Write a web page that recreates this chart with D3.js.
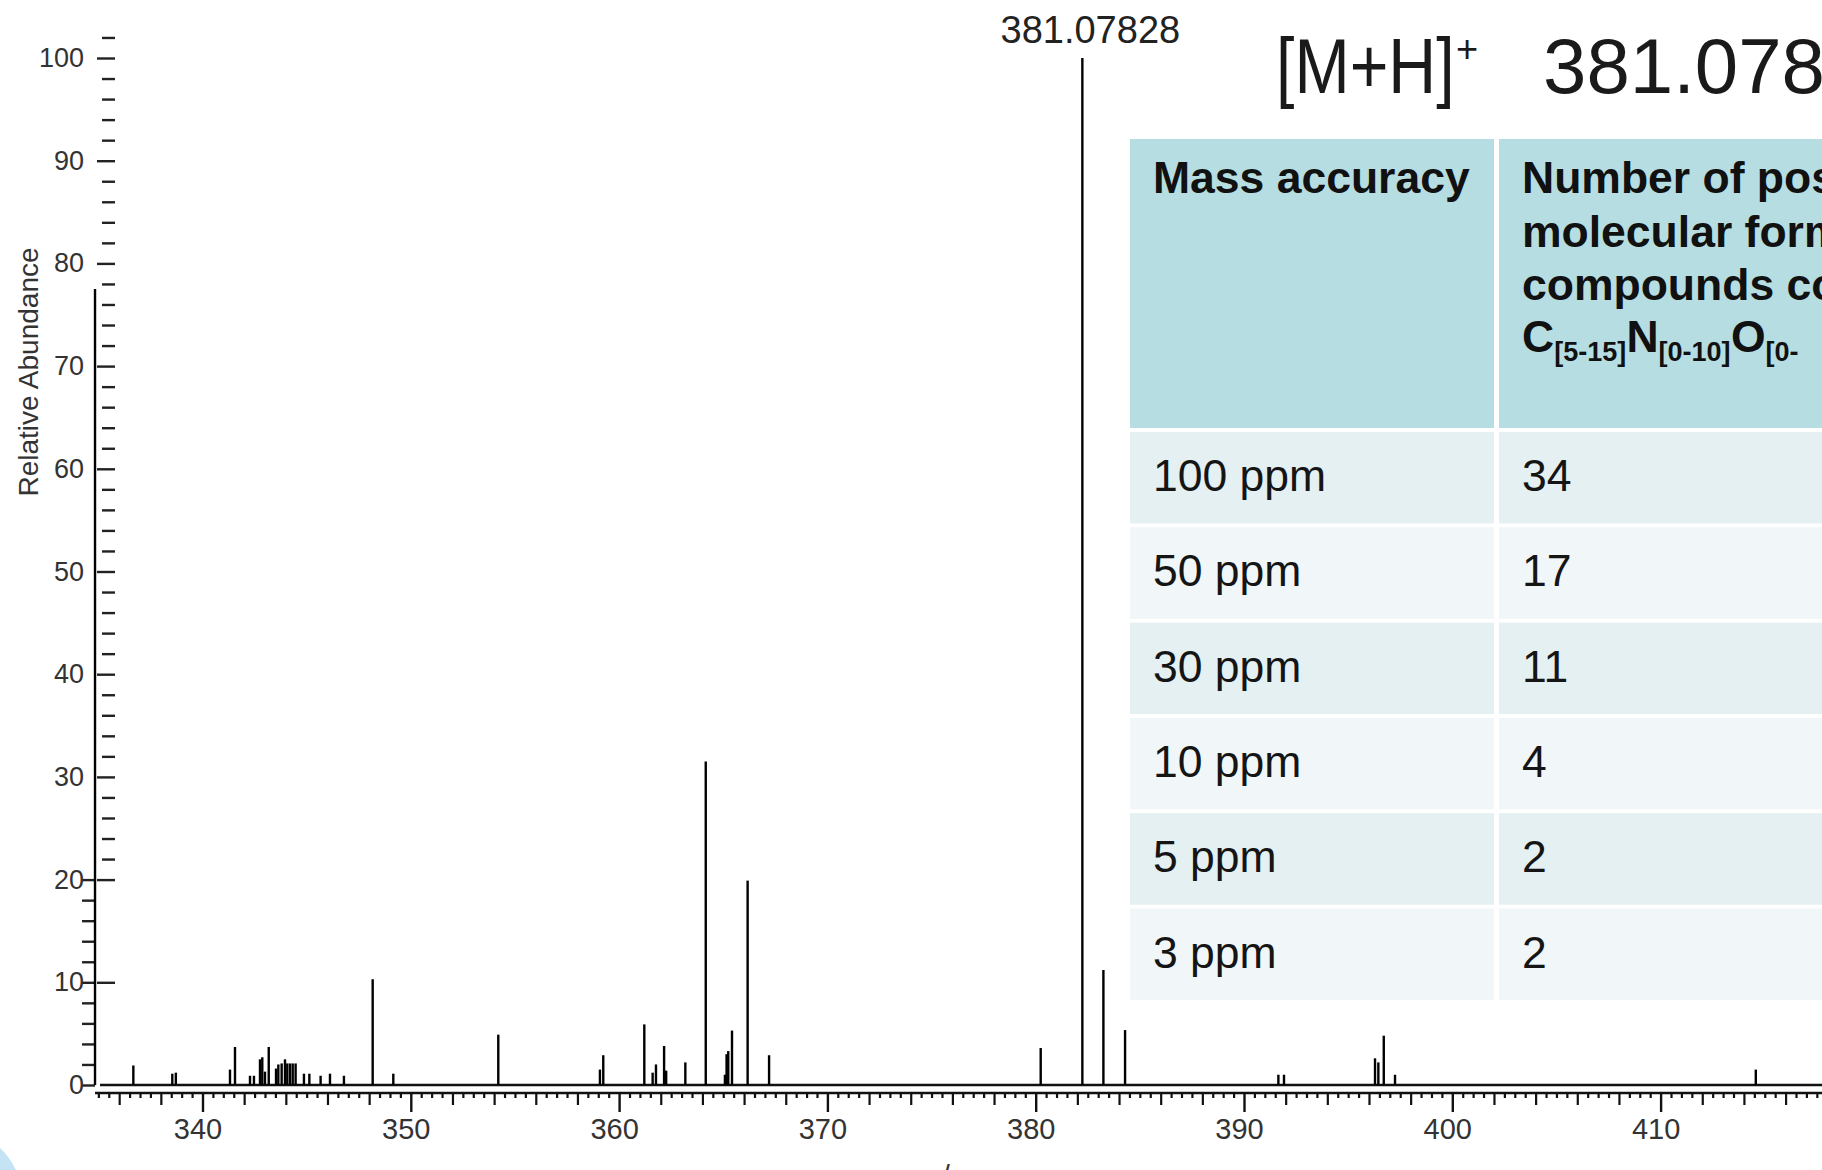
<!DOCTYPE html>
<html>
<head>
<meta charset="utf-8">
<script src="https://cdn.jsdelivr.net/npm/d3@7"></script>
<style>
  body { margin: 0; background: #fff; overflow: hidden; }
  svg { display: block; font-family: "Liberation Sans", Arial, sans-serif; }
</style>
</head>
<body>
<div class="vis-spectrum"></div>
<script>
// peaks (m/z on the drawn axis, relative abundance %)
const peakMz = [
  334.84, 336.68, 338.55, 338.72, 341.32, 341.56, 342.28, 342.47, 342.76, 342.87,
  343.0, 343.18, 343.53, 343.64, 343.8, 343.96, 344.07, 344.2, 344.33, 344.47,
  344.87, 345.13, 345.67, 346.12, 346.79, 348.17, 349.16, 354.2, 359.08, 359.24,
  361.21, 361.61, 361.77, 362.16, 362.26, 363.18, 364.16, 365.08, 365.16, 365.24,
  365.42, 366.17, 367.2, 380.24, 382.24, 383.25, 384.29, 391.65, 391.92, 396.29,
  396.45, 396.71, 397.25, 414.57
];
const peakAbund = [
  77.5, 1.9, 1.1, 1.2, 1.5, 3.7, 0.9, 0.9, 2.5, 2.7,
  1.3, 3.7, 1.6, 2.0, 2.1, 2.5, 2.1, 2.1, 2.1, 2.1,
  1.1, 1.1, 0.9, 1.1, 0.9, 10.3, 1.1, 4.9, 1.5, 2.9,
  5.9, 1.2, 2.0, 3.8, 1.4, 2.2, 31.5, 1.0, 3.0, 3.3,
  5.3, 19.9, 2.9, 3.6, 100, 11.2, 5.35, 1.0, 1.0, 2.6,
  2.2, 4.8, 1.0, 1.5
];
const baseLabel = "381.07828";
const xTickValues = [340, 350, 360, 370, 380, 390, 400, 410];
const yTickValues = [0, 10, 20, 30, 40, 50, 60, 70, 80, 90, 100];

// table beside the spectrum
const titleIon = "[M+H]";
const titleMass = "381.07828";
const headerCol1 = "Mass accuracy";
const headerCol2 = ["Number of possible", "molecular formulas for", "compounds containing"];
const formulaParts = [["C", "[5-15]"], ["N", "[0-10]"], ["O", "[0-"]];
const accuracyLabels = ["100 ppm", "50 ppm", "30 ppm", "10 ppm", "5 ppm", "3 ppm"];
const formulaCounts = [34, 17, 11, 4, 2, 2];

const width = 1822, height = 1170;
const svg = d3.select(".vis-spectrum").append("svg")
  .attr("width", width).attr("height", height);

const x = d3.scaleLinear().domain([340, 410]).range([202.5, 1660.6]);
const y = d3.scaleLinear().domain([0, 100]).range([1085, 58]);
const xLeft = x(334.84);

// x axis: double line + three tick tiers
svg.append("line").attr("x1", xLeft + 5).attr("x2", width)
  .attr("y1", y(0)).attr("y2", y(0)).attr("stroke", "#111").attr("stroke-width", 2.6);
svg.append("line").attr("x1", xLeft).attr("x2", width)
  .attr("y1", 1093).attr("y2", 1093).attr("stroke", "#111").attr("stroke-width", 2.6);

let minorX = [], mediumX = [];
for (let i = 670; i <= 836; i++) {
  const v = i / 2;
  if (v % 10 === 0) continue;
  if (v % 2 === 0) mediumX.push(v); else minorX.push(v);
}
function tickTier(vals, size) {
  const g = svg.append("g").attr("transform", "translate(0,1093)")
    .call(d3.axisBottom(x).tickValues(vals).tickSize(size).tickFormat(""));
  g.select(".domain").remove();
  g.selectAll("line").attr("stroke", "#111").attr("stroke-width", 2.2);
  return g;
}
tickTier(minorX, 5);
tickTier(mediumX, 12);
const xMajor = svg.append("g").attr("transform", "translate(0,1093)")
  .call(d3.axisBottom(x).tickValues(xTickValues).tickSize(19).tickPadding(6).tickFormat(d3.format("d")));
xMajor.select(".domain").remove();
xMajor.selectAll("line").attr("stroke", "#111").attr("stroke-width", 2.4);
xMajor.selectAll("text").attr("font-size", 29).attr("fill", "#333")
  .attr("dx", -5).attr("font-family", "Liberation Sans, Arial, sans-serif");

// y axis: dash ticks on the right of the line, small ticks on the left near the bottom
let dashY = [];
for (let v = 22; v <= 102; v += 2) if (v % 10 !== 0) dashY.push(v);
const yDash = svg.append("g").attr("transform", "translate(" + (xLeft + 7) + ",0)")
  .call(d3.axisRight(y).tickValues(dashY).tickSize(13).tickFormat(""));
yDash.select(".domain").remove();
const yMajor = svg.append("g").attr("transform", "translate(" + (xLeft + 2) + ",0)")
  .call(d3.axisRight(y).tickValues(yTickValues.filter((d) => d > 0)).tickSize(18).tickFormat(""));
yMajor.select(".domain").remove();
let leftY = [];
for (let v = 0; v <= 20; v += 2) leftY.push(v);
const yLeftTicks = svg.append("g").attr("transform", "translate(" + xLeft + ",0)")
  .call(d3.axisLeft(y).tickValues(leftY).tickSize(13).tickFormat(""));
yLeftTicks.select(".domain").remove();
svg.selectAll("g line").filter(function () { return !this.getAttribute("stroke-width"); })
  .attr("stroke", "#222").attr("stroke-width", 2.4);

svg.append("g").selectAll("text").data(yTickValues).join("text")
  .attr("x", 84).attr("y", (d) => y(d) + 9)
  .attr("text-anchor", "end").attr("font-size", 27).attr("fill", "#333")
  .text((d) => d);

svg.append("text")
  .attr("transform", "translate(38,372) rotate(-90)")
  .attr("text-anchor", "middle").attr("font-size", 28).attr("fill", "#333")
  .text("Relative Abundance");

svg.append("text").attr("x", 941).attr("y", 1186)
  .attr("text-anchor", "middle").attr("font-size", 29).attr("fill", "#333")
  .text("m/z");

// sticks
const peaks = peakMz.map((m, i) => ({ mz: m, ab: peakAbund[i] }));
svg.append("g").selectAll("line").data(peaks).join("line")
  .attr("x1", (d) => x(d.mz)).attr("x2", (d) => x(d.mz))
  .attr("y1", y(0)).attr("y2", (d) => y(d.ab))
  .attr("stroke", "#000").attr("stroke-width", 2.4);

const basePeak = peaks.reduce((a, b) => (b.ab > a.ab ? b : a));
svg.append("text").attr("x", x(basePeak.mz) + 8).attr("y", 43)
  .attr("text-anchor", "middle").attr("font-size", 38).attr("fill", "#222")
  .text(baseLabel);

// title over the table
svg.append("text").attr("transform", "translate(1276,93) scale(0.85,1)")
  .attr("font-size", 78).attr("fill", "#1a1a1a").text(titleIon);
svg.append("text").attr("x", 1456).attr("y", 62)
  .attr("font-size", 38).attr("fill", "#1a1a1a").text("+");
svg.append("text").attr("x", 1543).attr("y", 93)
  .attr("font-size", 78).attr("fill", "#1a1a1a").text(titleMass);

// table
const col1X = 1130, col2X = 1499, divider = 1494;
const rowBand = d3.scaleBand().domain(accuracyLabels).range([432, 1000]).paddingInner(0.04);
svg.append("rect").attr("x", col1X).attr("y", 139).attr("width", divider - col1X).attr("height", 289)
  .attr("fill", "#b6dee2");
svg.append("rect").attr("x", col2X).attr("y", 139).attr("width", width - col2X).attr("height", 289)
  .attr("fill", "#b6dee2");

const rows = svg.append("g").selectAll("g").data(accuracyLabels).join("g")
  .attr("transform", (d) => "translate(0," + rowBand(d) + ")");
rows.append("rect").attr("x", col1X).attr("width", divider - col1X).attr("height", rowBand.bandwidth())
  .attr("fill", (d, i) => (i % 2 === 0 ? "#e4f0f2" : "#f1f6f8"));
rows.append("rect").attr("x", col2X).attr("width", width - col2X).attr("height", rowBand.bandwidth())
  .attr("fill", (d, i) => (i % 2 === 0 ? "#e4f0f2" : "#f1f6f8"));
rows.append("text").attr("x", 1153).attr("y", 59)
  .attr("font-size", 44.5).attr("fill", "#151515").text((d) => d);
rows.append("text").attr("x", 1522).attr("y", 59)
  .attr("font-size", 44.5).attr("fill", "#151515").text((d, i) => formulaCounts[i]);

svg.append("text").attr("x", 1153).attr("y", 193)
  .attr("font-size", 44.5).attr("font-weight", "bold").attr("fill", "#111").text(headerCol1);
svg.append("g").selectAll("text").data(headerCol2).join("text")
  .attr("x", 1522).attr("y", (d, i) => 193 + i * 53.5)
  .attr("font-size", 44.5).attr("font-weight", "bold").attr("fill", "#111").text((d) => d);

// element ranges line with subscripts
const formula = svg.append("text").attr("x", 1522).attr("y", 352)
  .attr("font-size", 44.5).attr("font-weight", "bold").attr("fill", "#111");
formulaParts.forEach((p) => {
  formula.append("tspan").attr("dy", 0).text(p[0]);
  formula.append("tspan").attr("font-size", 27).attr("dy", 9).text(p[1]);
  formula.append("tspan").attr("font-size", 1).attr("dy", -9).text(" ");
});

// corner swoosh
svg.append("path").attr("d", "M0,1148 Q9,1156 16,1170 L0,1170 Z").attr("fill", "#c4e4f5");
</script>
</body>
</html>
